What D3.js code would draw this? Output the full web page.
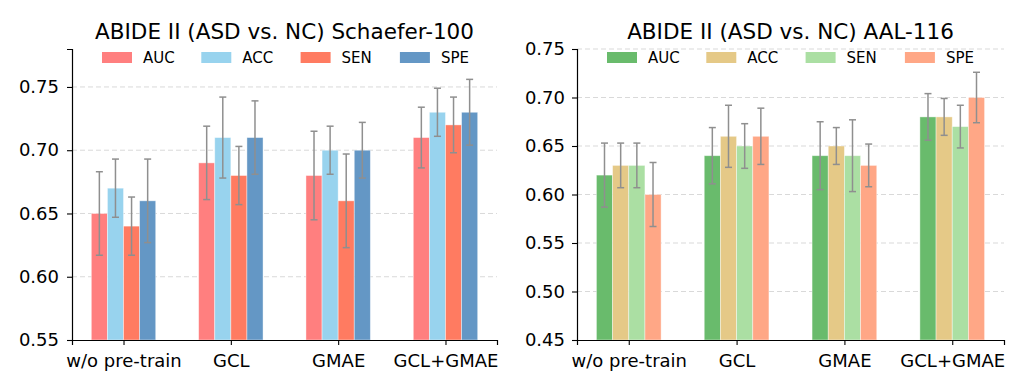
<!DOCTYPE html>
<html>
<head>
<meta charset="utf-8">
<script src="https://cdn.jsdelivr.net/npm/d3@7"></script>
<style>
  body { margin: 0; background: #fff; }
  text { font-family: "DejaVu Sans", sans-serif; fill: #000; }
</style>
</head>
<body>
<div id="chart"></div>
<script>
// categories and series
var methods = ["w/o pre-train", "GCL", "GMAE", "GCL+GMAE"];
var metrics = ["AUC", "ACC", "SEN", "SPE"];

// Schaefer-100 values, one array per metric (in method order)
var schAUC = [0.65, 0.69, 0.68, 0.71];
var schACC = [0.67, 0.71, 0.70, 0.73];
var schSEN = [0.64, 0.68, 0.66, 0.72];
var schSPE = [0.66, 0.71, 0.70, 0.73];
// error bar half widths
var schErrAUC = [0.033, 0.029, 0.035, 0.024];
var schErrACC = [0.023, 0.032, 0.019, 0.019];
var schErrSEN = [0.023, 0.023, 0.037, 0.022];
var schErrSPE = [0.033, 0.029, 0.022, 0.026];

// AAL-116 values
var aalAUC = [0.62, 0.64, 0.64, 0.68];
var aalACC = [0.63, 0.66, 0.65, 0.68];
var aalSEN = [0.63, 0.65, 0.64, 0.67];
var aalSPE = [0.60, 0.66, 0.63, 0.70];
var aalErrAUC = [0.033, 0.029, 0.035, 0.024];
var aalErrACC = [0.023, 0.032, 0.019, 0.019];
var aalErrSEN = [0.023, 0.023, 0.037, 0.022];
var aalErrSPE = [0.033, 0.029, 0.022, 0.026];

var schTicks = [0.55, 0.60, 0.65, 0.70, 0.75];
var aalTicks = [0.45, 0.50, 0.55, 0.60, 0.65, 0.70, 0.75];

var svg = d3
  .select("#chart")
  .append("svg")
  .attr("width", 1026)
  .attr("height", 392);

function drawPanel(opt) {
  var left = opt.left, right = opt.right, top = 49, bottom = 340;
  var width = right - left, height = bottom - top;

  var g = svg.append("g").attr("transform", "translate(" + left + "," + top + ")");

  // x is a linear scale over category index, like matplotlib's bar positions
  var x = d3.scaleLinear().domain([-0.48, 3.48]).range([0, width]);
  var y = d3.scaleLinear().domain(opt.yDomain).range([height, 0]);
  var barW = x(0.15) - x(0);

  var color = d3.scaleOrdinal().domain(metrics).range(opt.colors);

  // grid
  g.append("g")
    .selectAll("line")
    .data(opt.ticks.filter(function (t) { return t > opt.yDomain[0] + 1e-9; }))
    .enter()
    .append("line")
    .attr("x1", 0)
    .attr("x2", width)
    .attr("y1", function (d) { return y(d); })
    .attr("y2", function (d) { return y(d); })
    .attr("stroke", "#d9d9d9")
    .attr("stroke-width", 1)
    .attr("stroke-dasharray", "5,3");

  // bars + error bars
  var rows = [];
  opt.series.forEach(function (vals, k) {
    vals.forEach(function (v, i) {
      rows.push({ metric: metrics[k], k: k, i: i, v: v, e: opt.errs[k][i] });
    });
  });

  g.selectAll(".bar")
    .data(rows)
    .enter()
    .append("rect")
    .attr("class", "bar")
    .attr("x", function (d) { return x(d.i + (d.k - 1.5) * 0.15) - barW / 2; })
    .attr("y", function (d) { return y(d.v); })
    .attr("width", barW)
    .attr("height", function (d) { return y(opt.yDomain[0]) - y(d.v); })
    .attr("fill", function (d) { return color(d.metric); })
    .attr("stroke", "rgba(255,255,255,0.5)")
    .attr("stroke-width", 0.8);

  var eb = g.selectAll(".err")
    .data(rows)
    .enter()
    .append("g")
    .attr("class", "err")
    .attr("stroke", "#8f8f8f")
    .attr("stroke-width", 1.5);
  eb.append("line")
    .attr("x1", function (d) { return x(d.i + (d.k - 1.5) * 0.15); })
    .attr("x2", function (d) { return x(d.i + (d.k - 1.5) * 0.15); })
    .attr("y1", function (d) { return y(d.v - d.e); })
    .attr("y2", function (d) { return y(d.v + d.e); });
  [-1, 1].forEach(function (s) {
    eb.append("line")
      .attr("x1", function (d) { return x(d.i + (d.k - 1.5) * 0.15) - 3.5; })
      .attr("x2", function (d) { return x(d.i + (d.k - 1.5) * 0.15) + 3.5; })
      .attr("y1", function (d) { return y(d.v + s * d.e); })
      .attr("y2", function (d) { return y(d.v + s * d.e); });
  });

  // axes
  var xaxis = g.append("g")
    .attr("transform", "translate(0," + height + ")")
    .call(d3.axisBottom(x)
      .tickValues([0, 1, 2, 3])
      .tickFormat(function (d) { return methods[d]; })
      .tickSizeOuter(0)
      .tickSize(5)
      .tickPadding(9));
  xaxis.selectAll("text").style("font-size", "18px").attr("dy", "0.71em");

  var yaxis = g.append("g")
    .call(d3.axisLeft(y)
      .tickValues(opt.ticks)
      .tickFormat(d3.format(".2f"))
      .tickSizeOuter(0)
      .tickSize(5)
      .tickPadding(opt.pad));
  yaxis.selectAll("text").style("font-size", "18px");
  g.selectAll(".domain").attr("stroke", "#000").attr("stroke-width", 1.2);
  g.selectAll(".tick line").attr("stroke", "#000").attr("stroke-width", 1.1);

  // title
  g.append("text")
    .attr("x", width / 2)
    .attr("y", -10)
    .attr("text-anchor", "middle")
    .style("font-size", "21.5px")
    .text(opt.title);

  // legend
  var lg = g.selectAll(".leg")
    .data(metrics)
    .enter()
    .append("g")
    .attr("class", "leg")
    .attr("transform", function (d, i) { return "translate(" + (30 + i * 99.3) + ",3)"; });
  lg.append("rect")
    .attr("width", 30)
    .attr("height", 11)
    .attr("fill", function (d) { return color(d); });
  lg.append("text")
    .attr("x", 41)
    .attr("y", 11)
    .style("font-size", "15px")
    .text(function (d) { return d; });
}

drawPanel({
  left: 72, right: 497,
  title: "ABIDE II (ASD vs. NC) Schaefer-100",
  yDomain: [0.55, 0.78],
  ticks: schTicks,
  pad: 8,
  colors: ["#ff7f7f", "#98d3ee", "#ff7b61", "#6497c5"],
  series: [schAUC, schACC, schSEN, schSPE],
  errs: [schErrAUC, schErrACC, schErrSEN, schErrSPE]
});

drawPanel({
  left: 577, right: 1004,
  title: "ABIDE II (ASD vs. NC) AAL-116",
  yDomain: [0.45, 0.75],
  ticks: aalTicks,
  pad: 7,
  colors: ["#69bb6c", "#e5c987", "#abdfa3", "#ffa786"],
  series: [aalAUC, aalACC, aalSEN, aalSPE],
  errs: [aalErrAUC, aalErrACC, aalErrSEN, aalErrSPE]
});
</script>
</body>
</html>
